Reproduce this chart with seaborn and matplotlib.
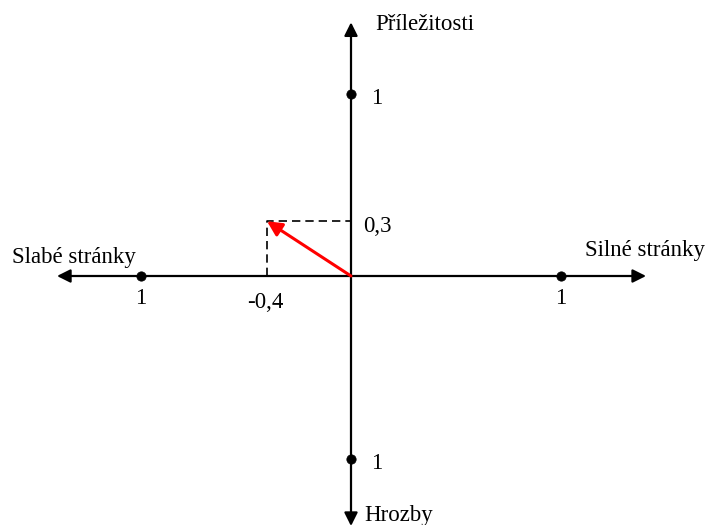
import matplotlib
matplotlib.use("Agg")
from matplotlib import pyplot as plt
import seaborn as sns
import pandas as pd

sns.set_style("white")
plt.rcParams['font.family'] = ['Liberation Serif', 'DejaVu Serif']
plt.rcParams['text.color'] = 'black'

# unit points on the axes
unit_x = [1, -1, 0, 0]
unit_y = [0, 0, 1, -1]
unit_labels = ['1', '1', '1', '1']

# resulting strategy vector
vec_x = -0.4
vec_y = 0.3
vec_x_label = '-0,4'
vec_y_label = '0,3'

axis_names = {'right': 'Silné stránky', 'left': 'Slabé stránky',
              'top': 'Příležitosti', 'bottom': 'Hrozby'}

# pixel layout: origin at (351, 276), 210 px / unit horizontally, 182.5 px / unit vertically
ox, oy, sx, sy = 351, 276, 210, 182.5
W, H = 709, 525

fig = plt.figure(figsize=(7.09, 5.25), dpi=100)
ax = fig.add_axes([0, 0, 1, 1])
ax.set_xlim(-ox / sx, (W - ox) / sx)
ax.set_ylim(-(H - oy) / sy, oy / sy)
ax.axis('off')

arrow_kw = dict(arrowstyle='-|>', color='black', lw=1.6,
                mutation_scale=20, shrinkA=0, shrinkB=0)
for tip in [(1.405, 0), (-1.40, 0), (0, 1.39), (0, -1.37)]:
    ax.annotate('', xy=tip, xytext=(0, 0), arrowprops=arrow_kw,
                annotation_clip=False)

# dashed projection lines
dash = pd.DataFrame({'x': [vec_x, vec_x, 0], 'y': [0, vec_y, vec_y]})
sns.lineplot(data=dash, x='x', y='y', sort=False, estimator=None, ax=ax,
             color='black', lw=1.2, linestyle=(0, (5, 3)))

# unit dots
pts = pd.DataFrame({'x': unit_x, 'y': unit_y})
sns.scatterplot(data=pts, x='x', y='y', ax=ax, color='black', s=45,
                edgecolor='black', zorder=5)

# red vector
ax.annotate('', xy=(vec_x, vec_y), xytext=(0, 0),
            arrowprops=dict(arrowstyle='-|>', color='#ff0000', lw=2.2,
                            mutation_scale=22, shrinkA=0, shrinkB=0))

fs = 16.5
ax.text(0.095, 0.975, unit_labels[2], fontsize=fs, va='center', ha='left')
ax.text(0.095, -1.025, unit_labels[3], fontsize=fs, va='center', ha='left')
ax.text(1.0, -0.125, unit_labels[0], fontsize=fs, va='center', ha='center')
ax.text(-1.0, -0.125, unit_labels[1], fontsize=fs, va='center', ha='center')
ax.text(0.06, vec_y - 0.03, vec_y_label, fontsize=fs, va='center', ha='left')
ax.text(vec_x - 0.01, -0.145, vec_x_label, fontsize=fs, va='center', ha='center')

ax.text(-1.615, 0.10, axis_names['left'], fontsize=fs, va='center', ha='left')
ax.text(1.115, 0.14, axis_names['right'], fontsize=fs, va='center', ha='left')
ax.text(0.115, 1.38, axis_names['top'], fontsize=fs, va='center', ha='left')
ax.text(0.065, -1.31, axis_names['bottom'], fontsize=fs, va='center', ha='left')

ax.set_xlabel('')
ax.set_ylabel('')
plt.savefig('out.png', dpi=100)
